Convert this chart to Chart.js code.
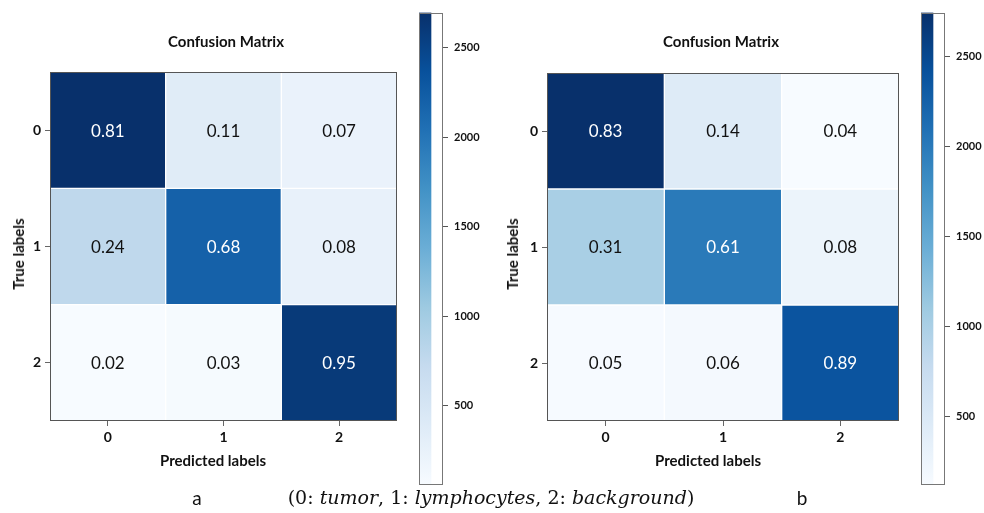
<!DOCTYPE html>
<html><head><meta charset="utf-8">
<script src="https://cdn.jsdelivr.net/npm/chart.js@4.4.0/dist/chart.umd.min.js"></script>
<style>
body{margin:0;width:984px;height:513px;background:#fff;position:relative;overflow:hidden;font-family:Lato,sans-serif}
canvas{position:absolute}
.t{position:absolute;font-weight:bold;color:#111;white-space:nowrap;transform:translate(-50%,-50%);font-size:15px}
.r{transform:translate(-50%,-50%) rotate(-90deg)}
.cap{position:absolute;white-space:nowrap;transform:translate(-50%,-50%);font-size:19px;color:#111}
.math{font-family:"DejaVu Serif",serif;font-size:19px}
</style></head><body>
<canvas id="mA" style="left:0px;top:0px" width="420" height="513"></canvas>
<canvas id="cA" style="left:400px;top:0px" width="100" height="513"></canvas>
<canvas id="mB" style="left:490px;top:0px" width="430" height="513"></canvas>
<canvas id="cB" style="left:900px;top:0px" width="84" height="513"></canvas>

<div class="t" style="left:226px;top:41px">Confusion Matrix</div>
<div class="t" style="left:721px;top:41px">Confusion Matrix</div>
<div class="t" style="left:213px;top:460px">Predicted labels</div>
<div class="t" style="left:708px;top:460px">Predicted labels</div>
<div class="t r" style="left:18px;top:254px">True labels</div>
<div class="t r" style="left:512px;top:254px">True labels</div>
<div class="cap" style="left:197px;top:497px">a</div>
<div class="cap" style="left:802px;top:497px">b</div>
<div class="cap math" style="left:491px;top:497px">(0: <i>tumor</i>, 1: <i>lymphocytes</i>, 2: <i>background</i>)</div>

<script>
// ---- data ----
const classLabels = ['0', '1', '2'];
const fracA = [[0.81, 0.11, 0.07], [0.24, 0.68, 0.08], [0.02, 0.03, 0.95]];
const countsA = [[2695, 366, 233], [776, 2200, 259], [56, 84, 2600]];
const fracB = [[0.83, 0.14, 0.04], [0.31, 0.61, 0.08], [0.05, 0.06, 0.89]];
const countsB = [[2743, 450, 118], [1010, 2000, 262], [135, 162, 2380]];
const colorbarTicks = [500, 1000, 1500, 2000, 2500];

// ---- Blues colormap ----
const BLUES = ['#f7fbff','#deebf7','#c6dbef','#9ecae1','#6baed6','#4292c6','#2171b5','#08519c','#08306b'];
function hex2rgb(h){return [parseInt(h.substr(1,2),16),parseInt(h.substr(3,2),16),parseInt(h.substr(5,2),16)];}
function blues(t){
  t = Math.max(0, Math.min(1, t));
  const p = t * (BLUES.length - 1), i = Math.min(Math.floor(p), BLUES.length - 2), f = p - i;
  const a = hex2rgb(BLUES[i]), b = hex2rgb(BLUES[i + 1]);
  return 'rgb(' + a.map((v, k) => Math.round(v + (b[k] - v) * f)).join(',') + ')';
}

const framePlugin = {
  id: 'frame',
  afterDraw(chart, args, opts) {
    const a = chart.chartArea, c = chart.ctx;
    c.save(); c.strokeStyle = opts.color || '#555'; c.lineWidth = 1;
    c.strokeRect(Math.round(a.left) + 0.5, Math.round(a.top) + 0.5, Math.round(a.right - a.left) - 1, Math.round(a.bottom - a.top) - 1);
    c.restore();
  }
};

const cellTextPlugin = {
  id: 'cellText',
  afterDatasetsDraw(chart, args, opts) {
    const c = chart.ctx;
    c.save();
    c.font = '17px Lato';
    c.textAlign = 'center'; c.textBaseline = 'middle';
    chart.data.datasets.forEach((ds, r) => {
      chart.getDatasetMeta(r).data.forEach((el, col) => {
        const cnt = opts.counts[r][col];
        c.fillStyle = cnt > opts.vmax / 2 ? '#ffffff' : '#111111';
        c.fillText(opts.frac[r][col].toFixed(2), el.x, (el.y + el.base) / 2 + 1);
      });
    });
    c.restore();
  }
};

function matrixChart(id, frac, counts, yWidth, padRight, padTop) {
  const all = counts.flat();
  const vmin = Math.min(...all), vmax = Math.max(...all);
  const datasets = classLabels.map((lab, r) => ({
    data: classLabels.map(() => [r - 0.5, r + 0.5]),
    backgroundColor: counts[r].map(v => blues((v - vmin) / (vmax - vmin))),
    borderColor: 'rgba(255,255,255,0.5)',
    borderWidth: 1,
    borderSkipped: false,
    grouped: false,
    barPercentage: 1,
    categoryPercentage: 1
  }));
  const tickFont = {family: 'Lato', weight: 'bold', size: 14};
  new Chart(document.getElementById(id), {
    type: 'bar',
    data: {labels: classLabels, datasets},
    plugins: [framePlugin, cellTextPlugin],
    options: {
      responsive: false, animation: false,
      layout: {padding: {left: 0, right: padRight, top: padTop, bottom: 0}},
      plugins: {legend: {display: false}, tooltip: {enabled: false},
        frame: {color: '#555'}, cellText: {frac, counts, vmax}},
      scales: {
        x: {
          type: 'category', offset: true,
          grid: {offset: false, drawOnChartArea: false, drawTicks: true, tickLength: 5, color: '#666'},
          border: {display: false},
          ticks: {font: tickFont, color: '#111', padding: 3, maxRotation: 0},
          afterFit(s) { s.height = 92; }
        },
        y: {
          type: 'linear', min: -0.5, max: 2.5, reverse: true,
          afterBuildTicks(s) { s.ticks = classLabels.map((_, i) => ({value: i})); },
          grid: {drawOnChartArea: false, drawTicks: true, tickLength: 5, color: '#666'},
          border: {display: false},
          ticks: {font: tickFont, color: '#111', padding: 4, callback: v => classLabels[v]},
          afterFit(s) { s.width = yWidth; }
        }
      }
    }
  });
}

function colorbarChart(id, counts, padLeft, yWidth, padTop, padBottom) {
  const all = counts.flat();
  const vmin = Math.min(...all), vmax = Math.max(...all);
  new Chart(document.getElementById(id), {
    type: 'bar',
    data: {labels: ['cb'], datasets: [{
      data: [[vmin, vmax]],
      barPercentage: 1, categoryPercentage: 1, borderWidth: 0,
      backgroundColor(ctx) {
        const a = ctx.chart.chartArea;
        if (!a) return '#ccc';
        const g = ctx.chart.ctx.createLinearGradient(0, a.bottom, 0, a.top);
        BLUES.forEach((c, i) => g.addColorStop(i / (BLUES.length - 1), c));
        return g;
      }
    }]},
    plugins: [framePlugin],
    options: {
      responsive: false, animation: false,
      layout: {padding: {left: padLeft, right: 0, top: padTop, bottom: padBottom}},
      plugins: {legend: {display: false}, tooltip: {enabled: false}, frame: {color: '#777'}},
      scales: {
        x: {display: false, offset: false},
        y: {
          position: 'right', min: vmin, max: vmax,
          afterBuildTicks(s) { s.ticks = colorbarTicks.map(v => ({value: v})); },
          grid: {drawOnChartArea: false, drawTicks: true, tickLength: 5, color: '#555'},
          border: {display: false},
          ticks: {font: {family: 'Lato', weight: 'bold', size: 11}, color: '#111', padding: 6, callback: v => String(v)},
          afterFit(s) { s.width = yWidth; }
        }
      }
    }
  });
}

matrixChart('mA', fracA, countsA, 50, 23, 72);
matrixChart('mB', fracB, countsB, 57, 21, 73);
colorbarChart('cA', countsA, 19, 57, 8, 28);
colorbarChart('cB', countsB, 21, 39, 9, 28);
</script>
</body></html>
